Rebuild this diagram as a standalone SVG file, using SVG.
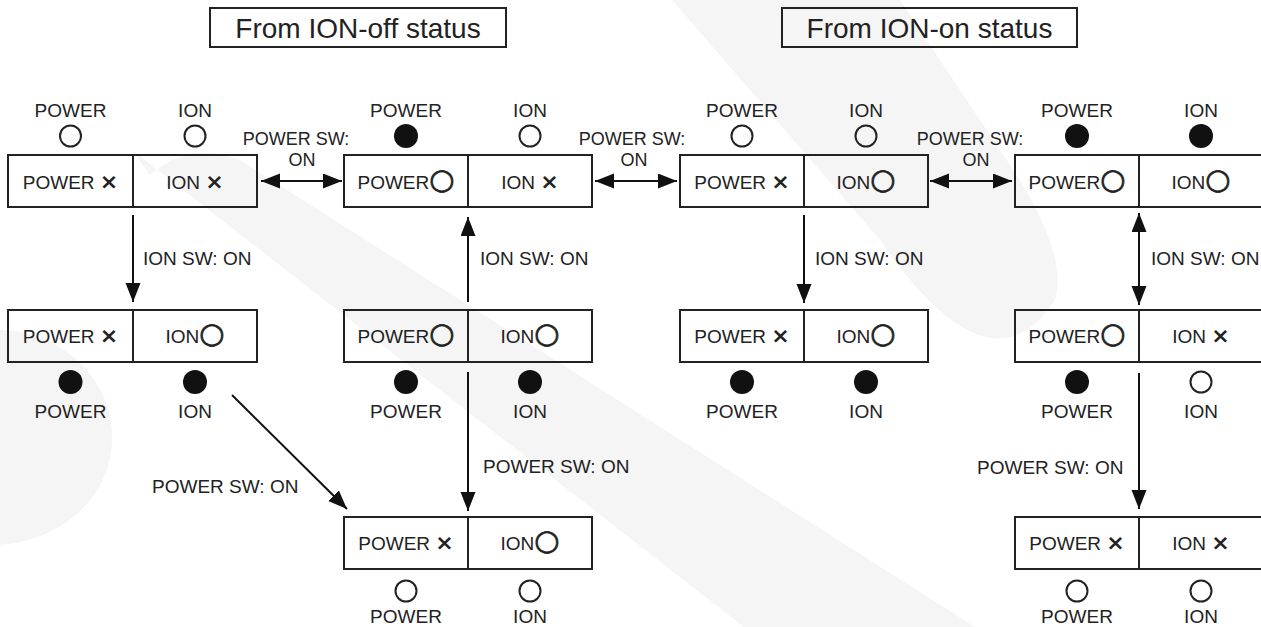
<svg xmlns="http://www.w3.org/2000/svg" width="1261" height="627" viewBox="0 0 1261 627">
<defs>
<marker id="ah" markerUnits="userSpaceOnUse" markerWidth="20" markerHeight="16" refX="19" refY="7.5" orient="auto-start-reverse"><path d="M0,0 L19,7.5 L0,15 Z" fill="#111"/></marker>
</defs>
<style>
.bg{fill:#fff}
.wm{fill:#f5f5f5}
.box{fill:none;stroke:#222;stroke-width:2}
.dv{stroke:#222;stroke-width:2}
text{font-family:"Liberation Sans",Arial,sans-serif;font-size:19px;fill:#222}
.c{text-anchor:middle}
.sym{font-family:"DejaVu Sans",sans-serif;font-size:29px;stroke:#222;stroke-width:0.7}
.x{font-family:"DejaVu Sans",sans-serif;font-size:22px;font-weight:bold}
.on{fill:#111}
.off{fill:none;stroke:#222;stroke-width:2}
.conn line{stroke:#111;stroke-width:2}
.sm{font-size:18px}
.title{font-size:28px}
</style>
<rect class="bg" x="0" y="0" width="1261" height="627"/>
<g id="watermark">
<path class="wm" d="M0,330 C60,330 115,380 112,440 C110,500 60,540 0,545 Z"/>
<path class="wm" d="M150,175 Q190,140 240,160 L975,627 L744,627 L132,150 Z"/>
<path class="wm" d="M672,0 L880,240 Q990,400 1055,300 Q1070,250 1000,150 L900,0 Z"/>
</g>
<g id="title-off">
<rect class="box" x="210" y="8" width="296" height="39"/>
<text class="title c" x="358" y="38">From ION-off status</text>
</g>
<g id="title-on">
<rect class="box" x="782" y="8" width="295" height="39"/>
<text class="title c" x="929.5" y="38">From ION-on status</text>
</g>

<g id="n1">
<rect class="box" x="8" y="155" width="249" height="52"/>
<line class="dv" x1="133" y1="155" x2="133" y2="207"/>
<text class="c" x="70.5" y="189">POWER <tspan class="x">×</tspan></text>
<text class="c" x="195" y="189">ION <tspan class="x">×</tspan></text>
<text class="c" x="70.5" y="117">POWER</text>
<circle class="off" cx="70.5" cy="136" r="10.5"/>
<text class="c" x="195" y="117">ION</text>
<circle class="off" cx="195" cy="136" r="10.5"/>
</g>
<g id="n2">
<rect class="box" x="344" y="155" width="248" height="52"/>
<line class="dv" x1="468" y1="155" x2="468" y2="207"/>
<text class="c" x="406" y="189">POWER<tspan class="sym">○</tspan></text>
<text class="c" x="530" y="189">ION <tspan class="x">×</tspan></text>
<text class="c" x="406" y="117">POWER</text>
<circle class="on" cx="406" cy="136" r="12"/>
<text class="c" x="530" y="117">ION</text>
<circle class="off" cx="530" cy="136" r="10.5"/>
</g>
<g id="n3">
<rect class="box" x="680" y="155" width="248" height="52"/>
<line class="dv" x1="804" y1="155" x2="804" y2="207"/>
<text class="c" x="742" y="189">POWER <tspan class="x">×</tspan></text>
<text class="c" x="866" y="189">ION<tspan class="sym">○</tspan></text>
<text class="c" x="742" y="117">POWER</text>
<circle class="off" cx="742" cy="136" r="10.5"/>
<text class="c" x="866" y="117">ION</text>
<circle class="off" cx="866" cy="136" r="10.5"/>
</g>
<g id="n4">
<rect class="box" x="1015" y="155" width="250" height="52"/>
<line class="dv" x1="1139" y1="155" x2="1139" y2="207"/>
<text class="c" x="1077" y="189">POWER<tspan class="sym">○</tspan></text>
<text class="c" x="1201" y="189">ION<tspan class="sym">○</tspan></text>
<text class="c" x="1077" y="117">POWER</text>
<circle class="on" cx="1077" cy="136" r="12"/>
<text class="c" x="1201" y="117">ION</text>
<circle class="on" cx="1201" cy="136" r="12"/>
</g>

<g id="n5">
<rect class="box" x="8" y="310" width="249" height="52"/>
<line class="dv" x1="133" y1="310" x2="133" y2="362"/>
<text class="c" x="70.5" y="343">POWER <tspan class="x">×</tspan></text>
<text class="c" x="195" y="343">ION<tspan class="sym">○</tspan></text>
<circle class="on" cx="70.5" cy="382" r="12"/>
<text class="c" x="70.5" y="418">POWER</text>
<circle class="on" cx="195" cy="382" r="12"/>
<text class="c" x="195" y="418">ION</text>
</g>
<g id="n6">
<rect class="box" x="344" y="310" width="248" height="52"/>
<line class="dv" x1="468" y1="310" x2="468" y2="362"/>
<text class="c" x="406" y="343">POWER<tspan class="sym">○</tspan></text>
<text class="c" x="530" y="343">ION<tspan class="sym">○</tspan></text>
<circle class="on" cx="406" cy="382" r="12"/>
<text class="c" x="406" y="418">POWER</text>
<circle class="on" cx="530" cy="382" r="12"/>
<text class="c" x="530" y="418">ION</text>
</g>
<g id="n7">
<rect class="box" x="680" y="310" width="248" height="52"/>
<line class="dv" x1="804" y1="310" x2="804" y2="362"/>
<text class="c" x="742" y="343">POWER <tspan class="x">×</tspan></text>
<text class="c" x="866" y="343">ION<tspan class="sym">○</tspan></text>
<circle class="on" cx="742" cy="382" r="12"/>
<text class="c" x="742" y="418">POWER</text>
<circle class="on" cx="866" cy="382" r="12"/>
<text class="c" x="866" y="418">ION</text>
</g>
<g id="n8">
<rect class="box" x="1015" y="310" width="250" height="52"/>
<line class="dv" x1="1139" y1="310" x2="1139" y2="362"/>
<text class="c" x="1077" y="343">POWER<tspan class="sym">○</tspan></text>
<text class="c" x="1201" y="343">ION <tspan class="x">×</tspan></text>
<circle class="on" cx="1077" cy="382" r="12"/>
<text class="c" x="1077" y="418">POWER</text>
<circle class="off" cx="1201" cy="382" r="10.5"/>
<text class="c" x="1201" y="418">ION</text>
</g>

<g id="n9">
<rect class="box" x="344" y="517" width="248" height="52"/>
<line class="dv" x1="468" y1="517" x2="468" y2="569"/>
<text class="c" x="406" y="550">POWER <tspan class="x">×</tspan></text>
<text class="c" x="530" y="550">ION<tspan class="sym">○</tspan></text>
<circle class="off" cx="406" cy="591" r="10.5"/>
<text class="c" x="406" y="623">POWER</text>
<circle class="off" cx="530" cy="591" r="10.5"/>
<text class="c" x="530" y="623">ION</text>
</g>
<g id="n10">
<rect class="box" x="1015" y="517" width="250" height="52"/>
<line class="dv" x1="1139" y1="517" x2="1139" y2="569"/>
<text class="c" x="1077" y="550">POWER <tspan class="x">×</tspan></text>
<text class="c" x="1201" y="550">ION <tspan class="x">×</tspan></text>
<circle class="off" cx="1077" cy="591" r="10.5"/>
<text class="c" x="1077" y="623">POWER</text>
<circle class="off" cx="1201" cy="591" r="10.5"/>
<text class="c" x="1201" y="623">ION</text>
</g>

<g id="connectors" class="conn">
<line x1="261" y1="181" x2="342" y2="181" marker-start="url(#ah)" marker-end="url(#ah)"/>
<line x1="595" y1="181" x2="677" y2="181" marker-start="url(#ah)" marker-end="url(#ah)"/>
<line x1="930" y1="181" x2="1012" y2="181" marker-start="url(#ah)" marker-end="url(#ah)"/>
<line x1="133" y1="215" x2="133" y2="302" marker-end="url(#ah)"/>
<line x1="468" y1="302" x2="468" y2="217" marker-end="url(#ah)"/>
<line x1="804" y1="215" x2="804" y2="303" marker-end="url(#ah)"/>
<line x1="1139" y1="213" x2="1139" y2="305" marker-start="url(#ah)" marker-end="url(#ah)"/>
<line x1="232" y1="395" x2="347" y2="509" marker-end="url(#ah)"/>
<line x1="468" y1="372" x2="468" y2="511" marker-end="url(#ah)"/>
<line x1="1139" y1="373" x2="1139" y2="509" marker-end="url(#ah)"/>
<g id="labels">
<text class="c sm" x="296" y="145">POWER SW:</text>
<text class="c sm" x="302" y="166">ON</text>
<text class="c sm" x="632" y="145">POWER SW:</text>
<text class="c sm" x="634" y="166">ON</text>
<text class="c sm" x="970" y="145">POWER SW:</text>
<text class="c sm" x="976" y="166">ON</text>
<text x="143" y="265">ION SW: ON</text>
<text x="480" y="265">ION SW: ON</text>
<text x="815" y="265">ION SW: ON</text>
<text x="1151" y="265">ION SW: ON</text>
<text x="152" y="493">POWER SW: ON</text>
<text x="483" y="473">POWER SW: ON</text>
<text x="977" y="474">POWER SW: ON</text>
</g>
</g>
</svg>
